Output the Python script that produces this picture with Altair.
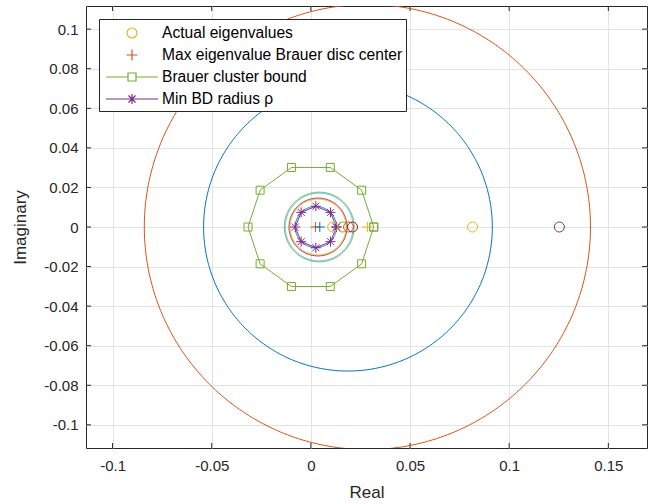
import altair as alt
import numpy as np
import pandas as pd

# ---------------- data ----------------
X_DOMAIN = [-0.1134, 0.1695]
Y_DOMAIN = [-0.1117, 0.1117]
X_TICKS = [-0.1, -0.05, 0, 0.05, 0.1, 0.15]
Y_TICKS = [-0.1, -0.08, -0.06, -0.04, -0.02, 0, 0.02, 0.04, 0.06, 0.08, 0.1]

# plain disc outlines (centre on real axis, radius)
circle_names = ["blue", "orange", "green", "cyan", "red", "yellow", "inner"]
circle_cx = [0.0187, 0.0285, 0.0042, 0.0042, 0.0036, 0.0036, 0.0025]
circle_r = [0.0728, 0.1125, 0.0176, 0.0171, 0.0146, 0.0141, 0.0104]
circle_colors = ["#0072BD", "#D95319", "#77AC30", "#4DBEEE", "#A2142F", "#EDB120", "#0072BD"]

# Brauer cluster bound (polygon with square markers)
brauer_x = [0.0317, 0.0256, 0.0098, -0.0098, -0.0256, -0.0317, -0.0256, -0.0098, 0.0098, 0.0256, 0.0317]
brauer_y = [0.0, 0.0186, 0.0301, 0.0301, 0.0186, 0.0, -0.0186, -0.0301, -0.0301, -0.0186, 0.0]

# Min BD radius rho (polygon with asterisk markers)
rho_x = [0.0129, 0.0099, 0.0025, -0.0049, -0.0079, -0.0049, 0.0025, 0.0099, 0.0129]
rho_y = [0.0, 0.0074, 0.0105, 0.0074, 0.0, -0.0074, -0.0105, -0.0074, 0.0]

# circle markers on the real axis
ring_x = [0.0110, 0.0815, 0.0160, 0.0190, 0.0210, 0.1253]
ring_colors = ["#EDB120", "#EDB120", "#77AC30", "#D95319", "#A2142F", "#7E2F8E"]

# plus markers on the real axis
plus_x = [0.0023, 0.0045, 0.0285]
plus_colors = ["#D95319", "#0072BD", "#EDB120"]

legend_names = ["Actual eigenvalues", "\u00a0Max eigenvalue Brauer disc center",
                "Brauer cluster bound", "Min BD radius \u03c1"]
legend_colors = ["#EDB120", "#D95319", "#77AC30", "#7E2F8E"]

# ---------------- shapes ----------------
PLUS = "M-1,0L1,0M0,-1L0,1"
STAR = "M-1,0L1,0M0,-1L0,1M-0.7,-0.7L0.7,0.7M-0.7,0.7L0.7,-0.7"
leg_shapes = [
    "M0.5,0A0.5,0.5,0,1,1,-0.5,0A0.5,0.5,0,1,1,0.5,0Z",
    "M-0.55,0L0.55,0M0,-0.55L0,0.55",
    "M-2.6,0L-0.4,0M0.4,0L2.6,0M-0.4,-0.4L0.4,-0.4L0.4,0.4L-0.4,0.4Z",
    "M-2.6,0L2.6,0M0,-0.5L0,0.5M-0.35,-0.35L0.35,0.35M-0.35,0.35L0.35,-0.35",
]

W, H = 561, 442
xs = alt.Scale(domain=X_DOMAIN, nice=False, zero=False)
ys = alt.Scale(domain=Y_DOMAIN, nice=False, zero=False)
LBL = "replace(format(datum.value, '.2~f'), '\u2212', '-')"
x_axis = alt.Axis(values=X_TICKS, title="Real", grid=True, ticks=False, domain=False,
                  labelExpr=LBL, labelPadding=10, titlePadding=11)
y_axis = alt.Axis(values=Y_TICKS, title="Imaginary", grid=True, ticks=False, domain=False,
                  labelExpr=LBL, labelPadding=8, titlePadding=14)

layers = []

# tick marks pointing inward on all four sides
xt = pd.DataFrame({"v": X_TICKS})
yt = pd.DataFrame({"v": Y_TICKS})
tick_col = "#262626"
layers.append(alt.Chart(xt).mark_rule(color=tick_col, strokeWidth=1).encode(
    x=alt.X("v:Q", scale=xs, axis=x_axis), y=alt.value(H), y2=alt.value(H - 5)))
layers.append(alt.Chart(xt).mark_rule(color=tick_col, strokeWidth=1).encode(
    x=alt.X("v:Q", scale=xs), y=alt.value(0), y2=alt.value(5)))
layers.append(alt.Chart(yt).mark_rule(color=tick_col, strokeWidth=1).encode(
    y=alt.Y("v:Q", scale=ys, axis=y_axis), x=alt.value(0), x2=alt.value(5)))
layers.append(alt.Chart(yt).mark_rule(color=tick_col, strokeWidth=1).encode(
    y=alt.Y("v:Q", scale=ys), x=alt.value(W), x2=alt.value(W - 5)))

# disc outlines
theta = np.linspace(0, 2 * np.pi, 361)
for name, cx, r, col in zip(circle_names, circle_cx, circle_r, circle_colors):
    df = pd.DataFrame({"x": cx + r * np.cos(theta), "y": r * np.sin(theta), "i": np.arange(len(theta))})
    layers.append(alt.Chart(df).mark_line(color=col, strokeWidth=1, clip=True).encode(
        x=alt.X("x:Q", scale=xs), y=alt.Y("y:Q", scale=ys), order="i:Q"))

# Brauer cluster bound
bdf = pd.DataFrame({"x": brauer_x, "y": brauer_y, "i": range(len(brauer_x))})
layers.append(alt.Chart(bdf).mark_line(color="#77AC30", strokeWidth=1, clip=True).encode(
    x=alt.X("x:Q", scale=xs), y=alt.Y("y:Q", scale=ys), order="i:Q"))
layers.append(alt.Chart(bdf).mark_point(shape="square", size=64, color="#77AC30", filled=False,
                                        strokeWidth=1, opacity=1, clip=True).encode(
    x=alt.X("x:Q", scale=xs), y=alt.Y("y:Q", scale=ys)))

# Min BD radius
rdf = pd.DataFrame({"x": rho_x, "y": rho_y, "i": range(len(rho_x))})
layers.append(alt.Chart(rdf).mark_line(color="#7E2F8E", strokeWidth=1, clip=True).encode(
    x=alt.X("x:Q", scale=xs), y=alt.Y("y:Q", scale=ys), order="i:Q"))
layers.append(alt.Chart(rdf).mark_point(shape=STAR, size=100, color="#7E2F8E", filled=False,
                                        strokeWidth=1, opacity=1, clip=True).encode(
    x=alt.X("x:Q", scale=xs), y=alt.Y("y:Q", scale=ys)))

# ring markers
for xv, col in zip(ring_x, ring_colors):
    d = pd.DataFrame({"x": [xv], "y": [0.0]})
    layers.append(alt.Chart(d).mark_point(shape="circle", size=100, color=col, filled=False,
                                          strokeWidth=1, opacity=1, clip=True).encode(
        x=alt.X("x:Q", scale=xs), y=alt.Y("y:Q", scale=ys)))

# plus markers
for xv, col in zip(plus_x, plus_colors):
    d = pd.DataFrame({"x": [xv], "y": [0.0]})
    layers.append(alt.Chart(d).mark_point(shape=PLUS, size=100, color=col, filled=False,
                                          strokeWidth=1, opacity=1, clip=True).encode(
        x=alt.X("x:Q", scale=xs), y=alt.Y("y:Q", scale=ys)))

# legend-only layer (invisible marks)
ldf = pd.DataFrame({"s": legend_names, "x": [0.0] * 4, "y": [0.0] * 4})
leg = alt.Legend(title=None, orient="none", legendX=13, legendY=13, symbolOpacity=1,
                 symbolSize=400, symbolStrokeWidth=1.2, symbolOffset=19, labelOffset=19,
                 padding=3, rowPadding=2, strokeColor="#262626", fillColor="white",
                 labelFont="Liberation Sans", labelFontSize=15.6, labelColor="#000000",
                 cornerRadius=0, labelLimit=400)
layers.append(alt.Chart(ldf).mark_point(opacity=0, filled=False, size=1).encode(
    x=alt.X("x:Q", scale=xs), y=alt.Y("y:Q", scale=ys),
    color=alt.Color("s:N", scale=alt.Scale(domain=legend_names, range=legend_colors), legend=leg),
    shape=alt.Shape("s:N", scale=alt.Scale(domain=legend_names, range=leg_shapes), legend=leg)))

chart = alt.layer(*layers).properties(
    width=W, height=H,
    background="white",
    autosize=alt.AutoSizeParams(type="none"),
    padding={"left": 86, "top": 6, "right": 8, "bottom": 56},
).configure_view(stroke="#262626", strokeWidth=1).configure_axis(
    gridColor="#e3e3e3", gridWidth=1, labelFont="Liberation Sans", labelFontSize=15,
    labelColor="#262626", titleFont="Liberation Sans", titleFontSize=17,
    titleFontWeight="normal", titleColor="#262626"
)

chart.save("out.html", embed_options={"renderer": "svg", "actions": False})
